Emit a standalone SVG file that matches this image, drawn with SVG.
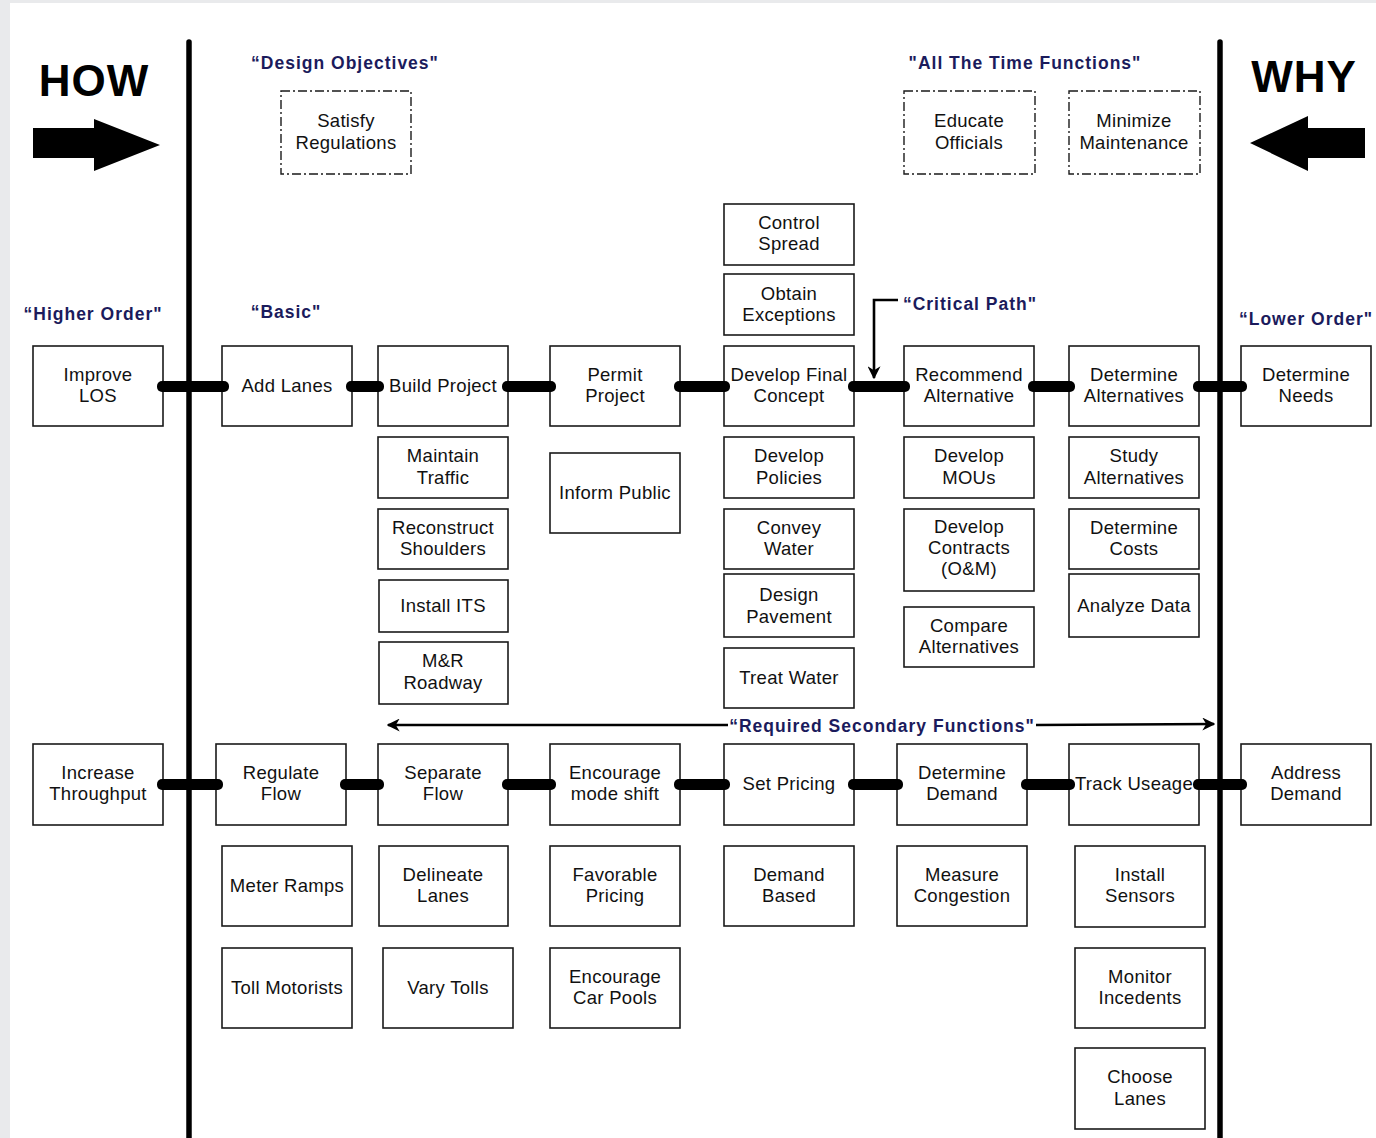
<svg xmlns="http://www.w3.org/2000/svg" width="1376" height="1138" viewBox="0 0 1376 1138">
<defs>
<style>
.b{fill:#fff;stroke:#1a1a1a;stroke-width:1.6}
.d{fill:#fff;stroke:#1a1a1a;stroke-width:1.4;stroke-dasharray:9 3 2 3}
.t{font-family:"Liberation Sans",Arial,sans-serif;font-size:18.5px;letter-spacing:0.3px;fill:#111;text-anchor:middle}
.h{font-family:"Liberation Sans",Arial,sans-serif;font-size:17.5px;letter-spacing:1px;font-weight:bold;fill:#1b1b5c;text-anchor:middle}
.big{font-family:"Liberation Sans",Arial,sans-serif;font-size:44px;letter-spacing:1px;font-weight:bold;fill:#000;text-anchor:middle}
.bar{fill:#000}
.ln{stroke:#000;stroke-width:2.6;fill:none}
</style>
<marker id="ah" viewBox="0 0 10 10" refX="9" refY="5" markerWidth="5" markerHeight="5" orient="auto-start-reverse" markerUnits="strokeWidth">
<path d="M0,0 L10,5 L0,10 L3,5 z" fill="#000"/>
</marker>
</defs>
<rect x="0" y="0" width="1376" height="1138" fill="#e9eaec"/>
<rect x="10" y="3" width="1366" height="1135" fill="#fff"/>

<g id="headers">
<text class="big" x="94" y="96">HOW</text>
<path d="M33,128 H94 V119 L160,145 L94,171 V158 H33 Z" fill="#000"/>
<text class="big" x="1304" y="92">WHY</text>
<path d="M1365,128 H1308 V116 L1250,143 L1308,171 V158 H1365 Z" fill="#000"/>
<line x1="189" y1="42" x2="189" y2="1138" stroke="#000" stroke-width="5.5" stroke-linecap="round"/>
<line x1="1220" y1="42" x2="1220" y2="1138" stroke="#000" stroke-width="5.5" stroke-linecap="round"/>
<text class="h" x="345" y="69">“Design Objectives"</text>
<text class="h" x="1025" y="69">"All The Time Functions"</text>
<text class="h" x="93" y="320">“Higher Order"</text>
<text class="h" x="286" y="318">“Basic"</text>
<text class="h" x="970" y="310">“Critical Path"</text>
<text class="h" x="1306" y="325">“Lower Order"</text>
<text class="h" x="882" y="732">“Required Secondary Functions"</text>
</g>

<g id="n-satisfy"><rect class="d" x="281" y="91" width="130" height="83"/><text class="t" x="346" y="127">Satisfy</text><text class="t" x="346" y="149">Regulations</text></g>
<g id="n-educate"><rect class="d" x="904" y="91" width="131" height="83"/><text class="t" x="969" y="127">Educate</text><text class="t" x="969" y="149">Officials</text></g>
<g id="n-minimize"><rect class="d" x="1069" y="91" width="131" height="83"/><text class="t" x="1134" y="127">Minimize</text><text class="t" x="1134" y="149">Maintenance</text></g>

<g id="n-improve"><rect class="b" x="33" y="346" width="130" height="80"/><text class="t" x="98" y="381">Improve</text><text class="t" x="98" y="402">LOS</text></g>
<g id="n-addlanes"><rect class="b" x="222" y="346" width="130" height="80"/><text class="t" x="287" y="392">Add Lanes</text></g>
<g id="n-build"><rect class="b" x="378" y="346" width="130" height="80"/><text class="t" x="443" y="392">Build Project</text></g>
<g id="n-permit"><rect class="b" x="550" y="346" width="130" height="80"/><text class="t" x="615" y="381">Permit</text><text class="t" x="615" y="402">Project</text></g>
<g id="n-final"><rect class="b" x="724" y="346" width="130" height="80"/><text class="t" x="789" y="381">Develop Final</text><text class="t" x="789" y="402">Concept</text></g>
<g id="n-recommend"><rect class="b" x="904" y="346" width="130" height="80"/><text class="t" x="969" y="381">Recommend</text><text class="t" x="969" y="402">Alternative</text></g>
<g id="n-detalt"><rect class="b" x="1069" y="346" width="130" height="80"/><text class="t" x="1134" y="381">Determine</text><text class="t" x="1134" y="402">Alternatives</text></g>
<g id="n-needs"><rect class="b" x="1241" y="346" width="130" height="80"/><text class="t" x="1306" y="381">Determine</text><text class="t" x="1306" y="402">Needs</text></g>

<g id="n-control"><rect class="b" x="724" y="204" width="130" height="61"/><text class="t" x="789" y="229">Control</text><text class="t" x="789" y="250">Spread</text></g>
<g id="n-obtain"><rect class="b" x="724" y="274" width="130" height="61"/><text class="t" x="789" y="300">Obtain</text><text class="t" x="789" y="321">Exceptions</text></g>

<g id="n-maintain"><rect class="b" x="378" y="437" width="130" height="61"/><text class="t" x="443" y="462">Maintain</text><text class="t" x="443" y="484">Traffic</text></g>
<g id="n-reconstruct"><rect class="b" x="378" y="509" width="130" height="60"/><text class="t" x="443" y="534">Reconstruct</text><text class="t" x="443" y="555">Shoulders</text></g>
<g id="n-its"><rect class="b" x="379" y="580" width="129" height="52"/><text class="t" x="443" y="612">Install ITS</text></g>
<g id="n-mr"><rect class="b" x="379" y="642" width="129" height="62"/><text class="t" x="443" y="667">M&amp;R</text><text class="t" x="443" y="689">Roadway</text></g>
<g id="n-inform"><rect class="b" x="550" y="453" width="130" height="80"/><text class="t" x="615" y="499">Inform Public</text></g>
<g id="n-policies"><rect class="b" x="724" y="437" width="130" height="61"/><text class="t" x="789" y="462">Develop</text><text class="t" x="789" y="484">Policies</text></g>
<g id="n-convey"><rect class="b" x="724" y="509" width="130" height="60"/><text class="t" x="789" y="534">Convey</text><text class="t" x="789" y="555">Water</text></g>
<g id="n-pavement"><rect class="b" x="724" y="574" width="130" height="63"/><text class="t" x="789" y="601">Design</text><text class="t" x="789" y="623">Pavement</text></g>
<g id="n-treat"><rect class="b" x="724" y="648" width="130" height="60"/><text class="t" x="789" y="684">Treat Water</text></g>
<g id="n-mous"><rect class="b" x="904" y="437" width="130" height="61"/><text class="t" x="969" y="462">Develop</text><text class="t" x="969" y="484">MOUs</text></g>
<g id="n-contracts"><rect class="b" x="904" y="509" width="130" height="82"/><text class="t" x="969" y="533">Develop</text><text class="t" x="969" y="554">Contracts</text><text class="t" x="969" y="575">(O&amp;M)</text></g>
<g id="n-compare"><rect class="b" x="904" y="607" width="130" height="60"/><text class="t" x="969" y="632">Compare</text><text class="t" x="969" y="653">Alternatives</text></g>
<g id="n-study"><rect class="b" x="1069" y="437" width="130" height="61"/><text class="t" x="1134" y="462">Study</text><text class="t" x="1134" y="484">Alternatives</text></g>
<g id="n-costs"><rect class="b" x="1069" y="509" width="130" height="60"/><text class="t" x="1134" y="534">Determine</text><text class="t" x="1134" y="555">Costs</text></g>
<g id="n-analyze"><rect class="b" x="1069" y="574" width="130" height="63"/><text class="t" x="1134" y="612">Analyze Data</text></g>

<g id="n-throughput"><rect class="b" x="33" y="744" width="130" height="81"/><text class="t" x="98" y="779">Increase</text><text class="t" x="98" y="800">Throughput</text></g>
<g id="n-regulate"><rect class="b" x="216" y="744" width="130" height="81"/><text class="t" x="281" y="779">Regulate</text><text class="t" x="281" y="800">Flow</text></g>
<g id="n-separate"><rect class="b" x="378" y="744" width="130" height="81"/><text class="t" x="443" y="779">Separate</text><text class="t" x="443" y="800">Flow</text></g>
<g id="n-encourage"><rect class="b" x="550" y="744" width="130" height="81"/><text class="t" x="615" y="779">Encourage</text><text class="t" x="615" y="800">mode shift</text></g>
<g id="n-setpricing"><rect class="b" x="724" y="744" width="130" height="81"/><text class="t" x="789" y="790">Set Pricing</text></g>
<g id="n-demand"><rect class="b" x="897" y="744" width="130" height="81"/><text class="t" x="962" y="779">Determine</text><text class="t" x="962" y="800">Demand</text></g>
<g id="n-track"><rect class="b" x="1069" y="744" width="130" height="81"/><text class="t" x="1134" y="790">Track Useage</text></g>
<g id="n-address"><rect class="b" x="1241" y="744" width="130" height="81"/><text class="t" x="1306" y="779">Address</text><text class="t" x="1306" y="800">Demand</text></g>

<g id="n-meter"><rect class="b" x="222" y="846" width="130" height="80"/><text class="t" x="287" y="892">Meter Ramps</text></g>
<g id="n-toll"><rect class="b" x="222" y="948" width="130" height="80"/><text class="t" x="287" y="994">Toll Motorists</text></g>
<g id="n-delineate"><rect class="b" x="379" y="846" width="129" height="80"/><text class="t" x="443" y="881">Delineate</text><text class="t" x="443" y="902">Lanes</text></g>
<g id="n-vary"><rect class="b" x="383" y="948" width="130" height="80"/><text class="t" x="448" y="994">Vary Tolls</text></g>
<g id="n-favorable"><rect class="b" x="550" y="846" width="130" height="80"/><text class="t" x="615" y="881">Favorable</text><text class="t" x="615" y="902">Pricing</text></g>
<g id="n-carpools"><rect class="b" x="550" y="948" width="130" height="80"/><text class="t" x="615" y="983">Encourage</text><text class="t" x="615" y="1004">Car Pools</text></g>
<g id="n-based"><rect class="b" x="724" y="846" width="130" height="80"/><text class="t" x="789" y="881">Demand</text><text class="t" x="789" y="902">Based</text></g>
<g id="n-measure"><rect class="b" x="897" y="846" width="130" height="80"/><text class="t" x="962" y="881">Measure</text><text class="t" x="962" y="902">Congestion</text></g>
<g id="n-sensors"><rect class="b" x="1075" y="846" width="130" height="81"/><text class="t" x="1140" y="881">Install</text><text class="t" x="1140" y="902">Sensors</text></g>
<g id="n-monitor"><rect class="b" x="1075" y="948" width="130" height="80"/><text class="t" x="1140" y="983">Monitor</text><text class="t" x="1140" y="1004">Incedents</text></g>
<g id="n-choose"><rect class="b" x="1075" y="1048" width="130" height="81"/><text class="t" x="1140" y="1083">Choose</text><text class="t" x="1140" y="1105">Lanes</text></g>

<g id="connectors">
<rect class="bar" x="157" y="381" width="72" height="11" rx="5"/>
<rect class="bar" x="346" y="381" width="38" height="11" rx="5"/>
<rect class="bar" x="502" y="381" width="54" height="11" rx="5"/>
<rect class="bar" x="674" y="381" width="56" height="11" rx="5"/>
<rect class="bar" x="848" y="381" width="62" height="11" rx="5"/>
<rect class="bar" x="1028" y="381" width="47" height="11" rx="5"/>
<rect class="bar" x="1193" y="381" width="54" height="11" rx="5"/>
<rect class="bar" x="157" y="779" width="66" height="11" rx="5"/>
<rect class="bar" x="340" y="779" width="44" height="11" rx="5"/>
<rect class="bar" x="502" y="779" width="54" height="11" rx="5"/>
<rect class="bar" x="674" y="779" width="56" height="11" rx="5"/>
<rect class="bar" x="848" y="779" width="55" height="11" rx="5"/>
<rect class="bar" x="1021" y="779" width="54" height="11" rx="5"/>
<rect class="bar" x="1193" y="779" width="54" height="11" rx="5"/>
<path class="ln" d="M898,300 H874 V378" stroke-width="2" marker-end="url(#ah)"/>
<line class="ln" x1="388" y1="725" x2="728" y2="725" marker-start="url(#ah)"/>
<line class="ln" x1="1036" y1="725" x2="1214" y2="724" marker-end="url(#ah)"/>
</g>
</svg>
